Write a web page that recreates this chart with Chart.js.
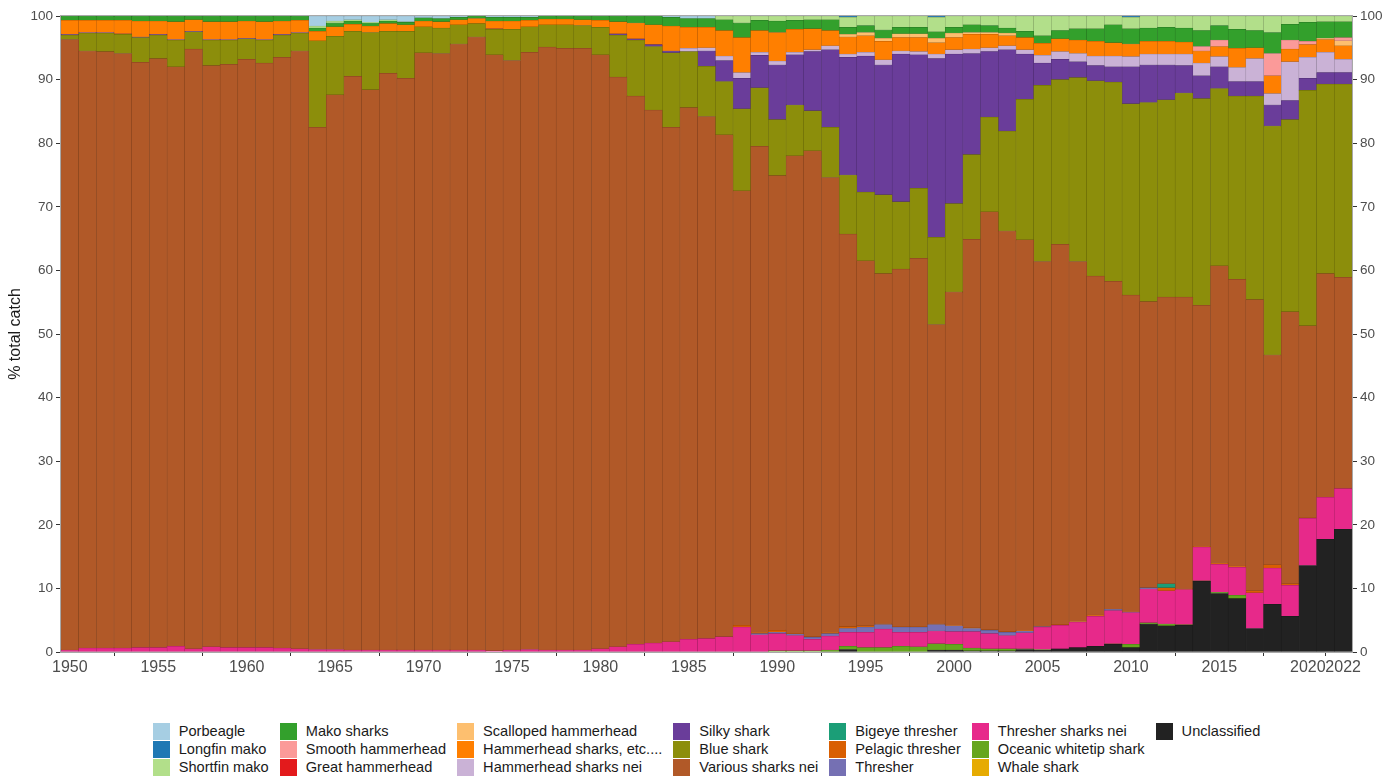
<!DOCTYPE html>
<html>
<head>
<meta charset="utf-8">
<script src="https://cdn.jsdelivr.net/npm/chart.js@4.4.0/dist/chart.umd.min.js"></script>
<style>
  body { margin: 0; background: #fff; font-family: 'Liberation Sans', Arial, sans-serif; }
  #wrap { position: absolute; left: 0; top: 0; width: 1383px; height: 690px; }
  #legend { position: absolute; left: 61px; width: 1291px; top: 722px; display: flex; justify-content: center; }
  #legend .grid { display: grid; grid-auto-flow: column; grid-template-rows: repeat(3, 18px); column-gap: 11px; }
  #legend .item { display: flex; align-items: center; height: 18px; font-size: 14.6px; color: #1a1a1a; white-space: nowrap; }
  #legend .box { width: 17px; height: 17px; margin-right: 9px; }
</style>
</head>
<body>
<div id="wrap"><canvas id="myChart"></canvas></div>
<div id="legend"><div class="grid" id="legendGrid"></div></div>
<script>
'use strict';
//////////////// data (percent of total catch, 1950 - 2022)

let years = [];
for (let y = 1950; y <= 2022; y++) years.push(y);

let unclassified = [
  0,0,0,0,0,0,0,0,0,0,
  0,0,0,0,0,0,0,0,0,0,
  0,0,0,0,0,0,0,0,0,0,
  0,0,0,0,0,0,0,0,0,0,
  0,0,0,0,0.4,0,0,0,0,0.3,
  0.3,0.2,0.2,0.2,0.4,0.3,0.5,0.7,0.9,1.2,
  0.7,4.4,4.1,4.2,11.1,9.2,8.4,3.7,7.5,5.6,
  13.6,17.7,19.3];
let whaleShark = [
  0,0,0,0,0,0,0,0,0,0,
  0,0,0,0,0,0,0,0,0,0,
  0,0,0,0,0,0,0,0,0,0,
  0,0,0,0,0,0,0,0,0,0,
  0,0,0,0,0,0,0,0,0,0,
  0,0,0,0,0,0,0,0,0,0,
  0,0,0,0,0,0,0,0,0,0,
  0,0,0];
let oceanicWhitetip = [
  0,0,0,0,0,0,0,0,0,0,
  0,0,0,0,0,0,0,0,0,0,
  0,0,0,0,0,0,0,0,0,0,
  0,0,0,0,0,0,0,0,0,0,
  0.2,0.2,0.2,0.3,0.5,0.7,0.7,0.9,0.8,1.0,
  0.9,0.4,0.3,0.3,0.1,0.1,0,0,0,0.1,
  0.5,0.2,0.3,0.1,0.1,0.2,0.5,0,0,0,
  0,0,0];
let thresherNei = [
  0.3,0.6,0.6,0.6,0.7,0.7,0.9,0.5,0.8,0.7,
  0.7,0.7,0.6,0.5,0.4,0.4,0.3,0.3,0.3,0.3,
  0.3,0.3,0.3,0.3,0.2,0.3,0.4,0.3,0.3,0.3,
  0.5,0.8,1.2,1.4,1.6,2.0,2.1,2.4,3.9,2.7,
  2.7,2.4,1.8,2.2,2.2,2.4,2.9,2.2,2.3,2.0,
  2.0,2.6,2.4,2.1,2.5,3.5,3.7,4.0,4.7,5.2,
  5.0,5.3,5.2,5.5,5.3,4.4,4.4,5.6,5.7,4.9,
  7.4,6.6,6.4];
let thresher = [
  0,0,0,0,0,0,0,0,0,0,
  0,0,0,0,0,0,0,0,0,0,
  0,0,0,0,0,0,0,0,0,0,
  0,0,0,0,0,0,0,0,0,0.2,
  0.2,0.2,0.3,0.4,0.6,0.8,0.7,0.8,0.8,1.0,
  0.9,0.5,0.5,0.5,0.3,0.1,0,0,0,0.2,
  0.1,0.2,0,0,0,0,0,0,0,0,
  0,0,0];
let pelagicThresher = [
  0,0,0,0,0,0,0,0,0,0,
  0,0,0,0,0,0,0,0,0,0,
  0,0,0,0,0,0,0,0,0,0,
  0,0,0,0,0,0,0,0,0.3,0.2,
  0.3,0.1,0.1,0.2,0.3,0.2,0.1,0.1,0.1,0.1,
  0.1,0.1,0.1,0.1,0.1,0,0.1,0.1,0.2,0,
  0.1,0,0.5,0.1,0.1,0.2,0.2,0.3,0.5,0.2,
  0.1,0,0];
let bigeyeThresher = [
  0,0,0,0,0,0,0,0,0,0,
  0,0,0,0,0,0,0,0,0,0,
  0,0,0,0,0,0,0,0,0,0,
  0,0,0,0,0,0,0,0,0,0,
  0,0,0,0,0,0,0,0,0,0,
  0,0,0,0,0,0,0,0,0,0,
  0,0,0.6,0,0,0,0,0,0,0,
  0,0,0];
let variousSharks = [
  96.0,93.9,93.8,93.5,92.0,92.6,91.1,94.3,91.4,91.7,
  92.5,91.9,92.9,94.0,82.1,87.2,90.2,88.1,90.7,89.9,
  93.9,93.8,95.3,96.4,93.7,92.7,93.9,94.8,94.6,94.6,
  93.4,89.6,86.2,83.8,80.9,83.6,82.1,78.9,68.3,76.4,
  71.5,75.1,76.4,71.5,61.7,57.4,55.1,56.2,57.9,47.1,
  52.4,61.1,65.7,63.0,61.4,57.4,59.8,56.6,53.3,51.6,
  49.7,45.0,45.1,45.9,37.9,46.7,45.1,45.8,33.0,42.8,
  30.2,35.2,33.2];
let blueShark = [
  0.7,2.8,2.9,3.0,3.9,3.7,4.2,2.7,4.0,3.8,
  3.2,3.6,3.5,2.8,13.6,9.2,7.1,9.0,6.6,7.4,
  4.1,4.0,3.0,2.1,4.0,4.9,4.0,3.5,3.7,3.6,
  4.3,6.6,8.8,10.0,11.7,8.8,7.9,8.4,12.9,9.2,
  8.8,8.0,6.3,7.9,9.3,10.8,12.4,10.6,11.0,13.7,
  13.9,13.3,14.9,15.7,22.1,27.7,25.9,28.9,30.7,31.3,
  30.1,31.3,31.0,32.1,32.5,27.9,28.8,32.0,36.0,30.2,
  37.0,29.8,30.4];
let silkyShark = [
  0.1,0.1,0.1,0.1,0.1,0.1,0.1,0.1,0.1,0.1,
  0.1,0.1,0.1,0.1,0,0,0,0,0,0,
  0,0,0,0,0.1,0,0,0,0,0,
  0,0.2,0.2,0.3,0.3,0,2.4,3.3,4.8,5.1,
  8.6,7.9,9.3,12.2,18.5,21.4,20.4,23.2,21.0,28.1,
  23.5,15.9,10.3,12.8,7.1,3.5,3.2,2.5,2.4,2.4,
  5.8,5.9,5.5,4.3,3.6,3.4,2.3,2.3,3.3,3.0,
  1.9,1.8,1.8];
let hammerheadNei = [
  0,0,0,0,0,0,0,0,0,0,
  0,0,0,0,0,0,0,0,0,0,
  0,0,0,0,0,0,0,0,0,0,
  0,0,0,0,0,0.5,0.5,0.7,0.9,0.5,
  0.6,0.4,0.3,0.6,0.5,0.6,0.8,0.5,0.5,0.7,
  0.7,0.7,0.6,0.6,0.7,1.2,1.2,1.3,1.5,1.7,
  1.6,1.7,1.7,1.8,2.0,1.6,2.2,3.6,1.8,6.1,
  3.3,3.2,2.1];
let hammerheadEtc = [
  2.2,1.9,1.9,2.1,2.5,2.1,2.8,1.8,2.8,2.8,
  2.7,2.8,2.1,1.9,1.5,1.5,1.1,1.0,1.2,1.0,
  0.9,1.0,0.8,0.8,1.2,1.3,1.0,0.9,0.9,0.9,
  1.1,1.9,2.5,3.1,3.9,3.3,3.2,4.0,5.5,3.4,
  4.5,3.6,3.3,2.4,2.7,2.6,2.9,2.1,2.2,1.8,
  1.9,2.3,2.1,1.6,1.9,1.9,2.0,2.1,2.3,2.1,
  2.0,2.0,2.0,1.9,1.9,1.6,3.0,1.7,2.8,2.0,
  2.0,2.0,2.1];
let scallopedHammerhead = [
  0,0,0,0,0,0,0,0,0,0,
  0,0,0,0,0,0,0,0,0,0,
  0,0,0,0,0,0,0,0,0,0,
  0,0,0,0,0,0,0,0,0,0,
  0,0,0,0,0.4,0.5,0.5,0.6,0.6,0.7,
  0.7,0.3,0.3,0.4,0,0,0,0,0,0,
  0,0,0,0,0,0,0,0,0,0,
  0,0.2,0.8];
let greatHammerhead = [
  0,0,0,0,0,0,0,0,0,0,
  0,0,0,0,0,0,0,0,0,0,
  0,0,0,0,0,0,0,0,0,0,
  0,0,0,0,0,0,0,0,0,0,
  0,0,0,0,0,0,0,0,0,0,
  0,0,0,0,0,0,0,0,0,0,
  0,0,0,0,0,0,0,0,0,0,
  0,0,0];
let smoothHammerhead = [
  0,0,0,0,0,0,0,0,0,0,
  0,0,0,0,0,0,0,0,0,0,
  0,0,0,0,0,0,0,0,0,0,
  0,0,0,0,0,0,0,0,0,0,
  0,0,0,0,0,0,0,0,0,0,
  0,0,0,0,0,0,0,0,0,0,
  0,0,0,0,0.7,1.0,0,0,3.5,1.4,
  0.5,0,0.5];
let makoSharks = [
  0.7,0.7,0.7,0.7,0.8,0.8,0.9,0.6,0.9,0.9,
  0.8,0.9,0.8,0.7,0.5,0.6,0.5,0.5,0.4,0.4,
  0.5,0.5,0.4,0.4,0.6,0.6,0.5,0.5,0.5,0.6,
  0.7,0.9,1.1,1.4,1.4,1.4,1.4,1.7,2.3,1.6,
  1.8,1.4,1.4,1.7,1.1,1.1,1.3,1.0,1.0,1.0,
  0.9,1.2,1.1,0.8,1.0,1.2,1.3,1.8,2.0,2.8,
  2.4,2.1,2.2,2.2,2.5,2.3,3.0,2.7,3.3,2.5,
  3.0,2.6,2.5];
let shortfinMako = [
  0,0,0,0,0,0,0,0,0,0,
  0,0,0,0,0.3,0.3,0.2,0.1,0.2,0.1,
  0,0,0,0,0,0,0,0,0,0,
  0,0,0,0,0,0,0,0.6,1.1,0.7,
  0.8,0.7,0.6,0.6,1.6,1.5,2.2,1.8,1.8,2.3,
  1.8,1.4,1.5,1.9,2.4,3.1,2.3,2.0,2.0,1.4,
  1.8,1.9,1.8,1.9,2.3,1.5,2.1,2.3,2.6,1.3,
  1.0,0.9,0.9];
let longfinMako = [
  0,0,0,0,0,0,0,0,0,0,
  0,0,0,0,0,0,0,0,0,0,
  0,0,0,0,0,0,0,0,0,0,
  0,0,0,0,0,0,0,0,0,0,
  0,0,0,0,0.2,0,0,0,0,0.2,
  0,0,0,0,0,0,0,0,0,0,
  0.2,0,0,0,0,0,0,0,0,0,
  0,0,0];
let porbeagle = [
  0,0,0,0,0,0,0,0,0,0,
  0,0,0,0,1.6,0.8,0.6,1.0,0.6,0.9,
  0.3,0.4,0.2,0,0.2,0.2,0.2,0,0,0,
  0,0,0,0,0.2,0.4,0.4,0,0,0,
  0,0,0,0,0,0,0,0,0,0,
  0,0,0,0,0,0,0,0,0,0,
  0,0,0,0,0,0,0,0,0,0,
  0,0,0];

///////////////// series, bottom of the stack first

let seriesNames = ['Unclassified', 'Whale shark', 'Oceanic whitetip shark', 'Thresher sharks nei',
  'Thresher', 'Pelagic thresher', 'Bigeye thresher', 'Various sharks nei', 'Blue shark', 'Silky shark',
  'Hammerhead sharks nei', 'Hammerhead sharks, etc....', 'Scalloped hammerhead', 'Great hammerhead',
  'Smooth hammerhead', 'Mako sharks', 'Shortfin mako', 'Longfin mako', 'Porbeagle'];
let seriesData = [unclassified, whaleShark, oceanicWhitetip, thresherNei, thresher, pelagicThresher,
  bigeyeThresher, variousSharks, blueShark, silkyShark, hammerheadNei, hammerheadEtc,
  scallopedHammerhead, greatHammerhead, smoothHammerhead, makoSharks, shortfinMako, longfinMako, porbeagle];
let seriesColors = ['#222222', '#e6ab02', '#66a61e', '#e7298a', '#7570b3', '#d95f02', '#1b9e77',
  '#b15928', '#8c8e0b', '#6a3d9a', '#cab2d6', '#ff7f00', '#fdbf6f', '#e31a1c', '#fb9a99',
  '#33a02c', '#b2df8a', '#1f78b4', '#a6cee3'];

function darker(hex) {
  let r = parseInt(hex.slice(1, 3), 16), g = parseInt(hex.slice(3, 5), 16), b = parseInt(hex.slice(5, 7), 16);
  return `rgb(${Math.round(r * 0.72)},${Math.round(g * 0.72)},${Math.round(b * 0.72)})`;
}

let datasets = [];
for (let i = 0; i < seriesNames.length; i++) {
  datasets.push({
    label: seriesNames[i],
    data: seriesData[i],
    backgroundColor: seriesColors[i],
    borderColor: darker(seriesColors[i]),
    borderWidth: 0.5,
    borderSkipped: false,
    categoryPercentage: 1,
    barPercentage: 1
  });
}

///////////////// chart

Chart.defaults.font.family = "'Liberation Sans', Arial, sans-serif";

const axisGrey = '#a8a8a8';
const tickGrey = '#333333';
const labelGrey = '#4d4d4d';

// grey box round the plot panel
const panelBorder = {
  id: 'panelBorder',
  afterDatasetsDraw(chart) {
    const a = chart.chartArea;
    const ctx = chart.ctx;
    ctx.save();
    ctx.strokeStyle = axisGrey;
    ctx.lineWidth = 1;
    ctx.strokeRect(a.left - 0.5, a.top - 0.5, a.right - a.left + 1, a.bottom - a.top + 1);
    ctx.restore();
  }
};

function yAxis(pos, width) {
  return {
    position: pos,
    stacked: pos === 'left',
    min: 0,
    max: 100,
    afterFit: s => { s.width = width; },
    border: { display: false },
    grid: { drawOnChartArea: false, drawTicks: true, tickLength: 5, color: tickGrey },
    ticks: { stepSize: 10, padding: 3, color: labelGrey, font: { size: 13.5 } },
    title: pos === 'left'
      ? { display: true, text: '% total catch', color: '#1a1a1a', font: { size: 16 }, padding: { top: 6, bottom: 0 } }
      : { display: false }
  };
}

let ctx = document.getElementById('myChart').getContext('2d');
let myChart = new Chart(ctx, {
  type: 'bar',
  data: { labels: years, datasets: datasets },
  options: {
    responsive: true,
    maintainAspectRatio: false,
    animation: false,
    layout: { padding: { top: 16, left: 0, right: 0, bottom: 0 } },
    plugins: { legend: { display: false }, tooltip: { enabled: false } },
    scales: {
      x: {
        stacked: true,
        afterFit: s => { s.height = 38; },
        border: { display: false },
        grid: { drawOnChartArea: false, drawTicks: true, tickLength: 4, color: tickGrey },
        ticks: {
          autoSkip: false,
          maxRotation: 0,
          padding: 2,
          color: labelGrey,
          font: { size: 16 },
          callback: function (val) {
            let yr = this.getLabelForValue(val);
            return (yr % 5 === 0 || yr === 2022) ? String(yr) : null;
          }
        }
      },
      y: yAxis('left', 61),
      y2: yAxis('right', 31)
    }
  },
  plugins: [panelBorder]
});

///////////////// legend (column by column, top of the stack first)

let grid = document.getElementById('legendGrid');
for (let i = myChart.data.datasets.length - 1; i >= 0; i--) {
  let ds = myChart.data.datasets[i];
  let item = document.createElement('div');
  item.className = 'item';
  let box = document.createElement('span');
  box.className = 'box';
  box.style.background = ds.backgroundColor;
  item.appendChild(box);
  let txt = document.createElement('span');
  txt.textContent = ds.label;
  item.appendChild(txt);
  grid.appendChild(item);
}
</script>
</body>
</html>
